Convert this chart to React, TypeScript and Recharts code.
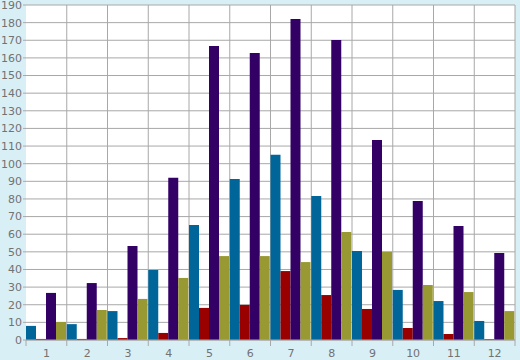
import { BarChart, Bar, XAxis, YAxis, CartesianGrid } from "recharts"

const categories = ["1", "2", "3", "4", "5", "6", "7", "8", "9", "10", "11", "12"]
const blueValues = [8, 9, 16.4, 39.7, 65.2, 91.3, 105, 81.7, 50.5, 28.4, 22.1, 10.8]
const redValues = [0.6, 0.6, 1.1, 4, 18.2, 19.9, 39.1, 25.5, 17.6, 6.8, 3.4, 0.5]
const purpleValues = [26.7, 32.3, 53.3, 92, 166.8, 162.8, 182.1, 170.2, 113.4, 78.8, 64.7, 49.3]
const oliveValues = [10.2, 17, 23.3, 35.2, 47.6, 47.6, 44.2, 61.3, 50, 31.2, 27.2, 16.4]
const yTicks = [0, 10, 20, 30, 40, 50, 60, 70, 80, 90, 100, 110, 120, 130, 140, 150, 160, 170, 180, 190]

const data = categories.map((c, i) => ({
  name: c,
  blue: blueValues[i],
  red: redValues[i],
  purple: purpleValues[i],
  olive: oliveValues[i],
}))

const GRID = "#a8a8a8"
const TEXT = "#727272"
const FONT = "'DejaVu Sans', sans-serif"

// plot area is 489px wide split into 12 bands
const HALF_BAND = 489 / 12 / 2

function XTick({ x, y, payload, index }: any) {
  const last = index === categories.length - 1
  return (
    <g>
      <line x1={x - HALF_BAND} x2={x - HALF_BAND} y1={y} y2={y + 6} stroke={GRID} />
      {last && <line x1={x + HALF_BAND} x2={x + HALF_BAND} y1={y} y2={y + 6} stroke={GRID} />}
      <text x={x} y={y + 9} dy="0.71em" textAnchor="middle" fill={TEXT} fontSize={11} fontFamily={FONT}>
        {payload.value}
      </text>
    </g>
  )
}

export default function App() {
  return (
    <div style={{ position: "absolute", left: 0, top: 0, width: 520, height: 360, background: "#d9eff6" }}>
      <BarChart
        width={520}
        height={360}
        data={data}
        margin={{ top: 5, right: 5, left: 0, bottom: 0 }}
        barCategoryGap={0}
        barGap={0}
      >
        <CartesianGrid
          stroke={GRID}
          fill="#ffffff"
          verticalCoordinatesGenerator={({ offset }: any) =>
            categories.map((_, i) => offset.left + ((i + 1) * offset.width) / categories.length)
          }
        />
        <XAxis
          dataKey="name"
          height={20}
          tickSize={0}
          tickMargin={0}
          axisLine={{ stroke: GRID }}
          tick={<XTick />}
          interval={0}
        />
        <YAxis
          width={26}
          domain={[0, 190]}
          ticks={yTicks}
          interval={0}
          axisLine={false}
          tickSize={3}
          tickMargin={1}
          tickLine={{ stroke: GRID }}
          tick={{ fill: TEXT, fontSize: 11, fontFamily: FONT }}
        />
        <Bar dataKey="blue" fill="#006699" isAnimationActive={false} />
        <Bar dataKey="red" fill="#990000" isAnimationActive={false} />
        <Bar dataKey="purple" fill="#330066" isAnimationActive={false} />
        <Bar dataKey="olive" fill="#999933" isAnimationActive={false} />
      </BarChart>
    </div>
  )
}
